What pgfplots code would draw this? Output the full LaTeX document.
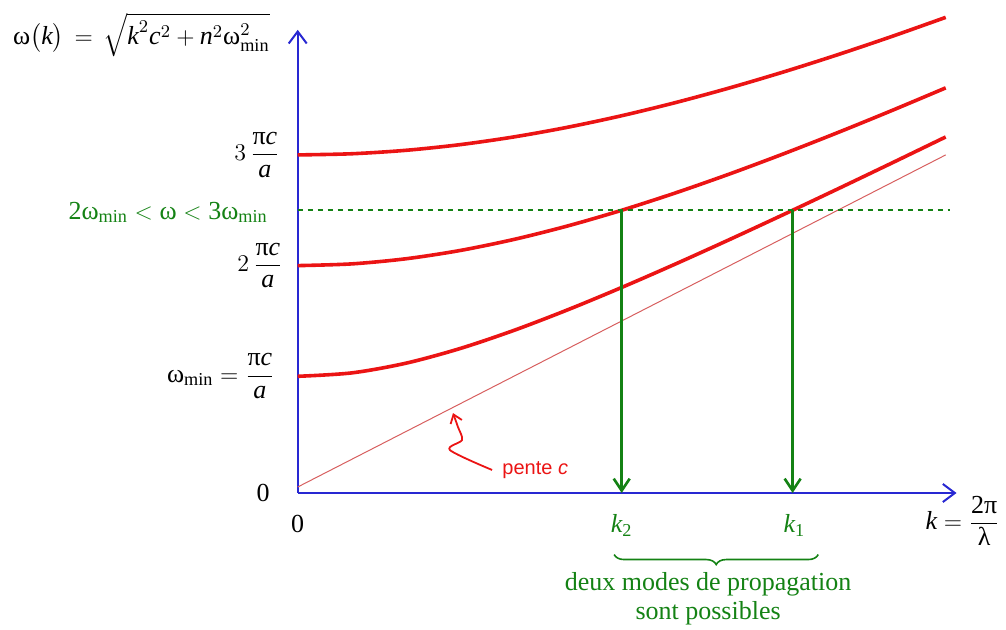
\documentclass[border=0pt]{standalone}
\usepackage{amsmath}
\usepackage{fontspec}
\setmainfont{Liberation Serif}
\newfontfamily\arial{Liberation Sans}
\usepackage{pgfplots}
\pgfplotsset{compat=1.18}
\usetikzlibrary{arrows.meta,decorations.pathreplacing}
\definecolor{cred}{RGB}{235,20,20}
\definecolor{cthin}{RGB}{215,95,95}
\definecolor{cblue}{RGB}{40,40,210}
\definecolor{cgreen}{RGB}{20,130,20}
\newcommand\vi[1]{\textit{#1}}
\begin{document}
\begin{tikzpicture}[every node/.style={font=\fontsize{13}{15}\selectfont, inner sep=0pt}]
\useasboundingbox (0,0) rectangle (503pt,315pt);
\begin{axis}[at={(148.85pt,68.5pt)}, anchor=south west, scale only axis,
  x=108pt, y=55.35pt, xmin=0, xmax=3.05, ymin=-0.054, ymax=4.13,
  axis lines=left, axis line style={draw=cblue, line width=1pt, -{Straight Barb[length=6pt,width=9pt]}},
  xtick=\empty, ytick=\empty, clip=false]
% dispersion curves n=1,2,3
\addplot[cred, line width=1.8pt, smooth] coordinates {
(0,1) (0.25,1.0308) (0.5,1.1180) (0.75,1.25) (1.0,1.4142) (1.25,1.6008) (1.5,1.8028)
(1.75,2.0156) (2.0,2.2361) (2.25,2.4622) (2.5,2.6926) (2.75,2.9262) (3.0,3.1623)};
\addplot[cred, line width=1.8pt, smooth] coordinates {
(0,2) (0.25,2.0156) (0.5,2.0616) (0.75,2.1360) (1.0,2.2361) (1.25,2.3585) (1.5,2.5)
(1.75,2.6575) (2.0,2.8284) (2.25,3.0104) (2.5,3.2016) (2.75,3.4004) (3.0,3.6056)};
\addplot[cred, line width=1.8pt, smooth] coordinates {
(0,3) (0.25,3.0104) (0.5,3.0414) (0.75,3.0923) (1.0,3.1623) (1.25,3.25) (1.5,3.3541)
(1.75,3.4731) (2.0,3.6056) (2.25,3.75) (2.5,3.9051) (2.75,4.0697) (3.0,4.2426)};
% slope c
\addplot[cthin, line width=0.5pt] coordinates {(0,0) (3,3)};
% dashed level
\addplot[cgreen, line width=0.9pt, dash pattern=on 2.5pt off 2.5pt] coordinates {(0,2.5) (3.02,2.5)};
% arrows down
\addplot[cgreen, line width=1.3pt, -{Straight Barb[length=6pt,width=8pt]}] coordinates {(1.5,2.5) (1.5,-0.054)};
\addplot[cgreen, line width=1.3pt, -{Straight Barb[length=6pt,width=8pt]}] coordinates {(2.2913,2.5) (2.2913,-0.054)};
% labels
\node[anchor=base east] at (axis cs:-0.128,4.0) {$\text{ω}\bigl(\vi{k}\bigr)\,=\,\sqrt{\rule[-3pt]{0pt}{12pt}\vi{k}^{2}\vi{c}^{2}+\vi{n}^{2}\text{ω}^{2}_{\text{min}}}$};
\node[anchor=east] at (axis cs:-0.082,3) {$3\,\dfrac{\text{π}\vi{c}}{\vi{a}}$};
\node[anchor=east] at (axis cs:-0.068,2) {$2\,\dfrac{\text{π}\vi{c}}{\vi{a}}$};
\node[anchor=east] at (axis cs:-0.105,1) {$\text{ω}_{\text{min}}=\dfrac{\text{π}\vi{c}}{\vi{a}}$};
\node[anchor=base] at (axis cs:-0.16,-0.13) {0};
\node[anchor=east, text=cgreen] at (axis cs:-0.137,2.48) {$\text{2ω}_{\text{min}}<\text{ω}<\text{3ω}_{\text{min}}$};
\node[anchor=base] at (axis cs:0,-0.415) {0};
\node[anchor=base, text=cgreen] at (axis cs:1.5,-0.415) {$\vi{k}_{\text{2}}$};
\node[anchor=base, text=cgreen] at (axis cs:2.3,-0.415) {$\vi{k}_{\text{1}}$};
\node[anchor=west] at (axis cs:2.905,-0.307) {$\vi{k}=\dfrac{\text{2π}}{\text{λ}}$};
\draw[cgreen, line width=0.8pt, decorate, decoration={brace, mirror, amplitude=5pt}] (axis cs:1.465,-0.61) -- (axis cs:2.41,-0.61);
\node[anchor=base, text=cgreen] at (axis cs:1.90,-0.939) {deux modes de propagation};
\node[anchor=base, text=cgreen] at (axis cs:1.90,-1.20) {sont possibles};
\node[anchor=west, text=cred, font=\arial\fontsize{10}{12}\selectfont] at (axis cs:0.946,0.154) {pente \textit{c}};
\draw[cred, line width=0.9pt, -{Straight Barb[length=4pt,width=6pt]}] plot[smooth] coordinates {(axis cs:0.900,0.154) (axis cs:0.705,0.334) (axis cs:0.761,0.425) (axis cs:0.742,0.542) (axis cs:0.719,0.668)};
\end{axis}
\end{tikzpicture}
\end{document}
